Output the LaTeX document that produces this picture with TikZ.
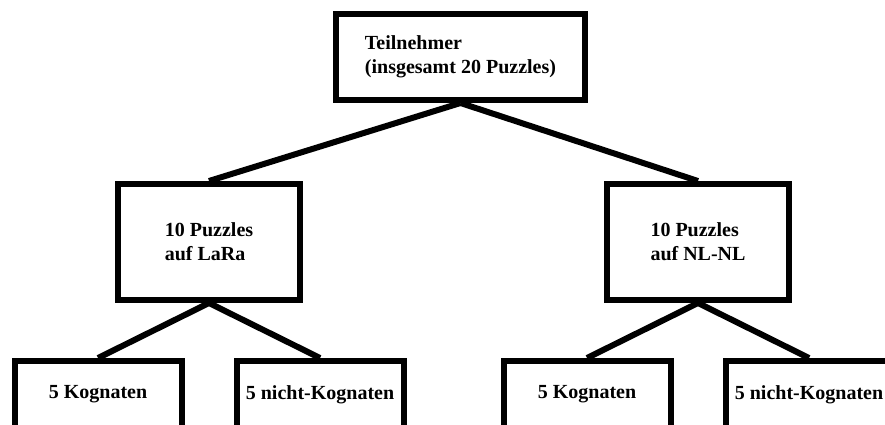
\documentclass[tikz,border=0pt]{standalone}
\usepackage{fontspec}
\setmainfont{Liberation Serif}
\tikzset{
  rootbox/.style={rectangle, draw, line width=6pt, minimum width=249pt, minimum height=86pt, inner sep=0pt, align=left, font=\fontsize{20}{24}\selectfont\bfseries},
  groupbox/.style={rectangle, draw, line width=6pt, minimum width=182pt, minimum height=116pt, inner sep=0pt, align=left, font=\fontsize{20}{24}\selectfont\bfseries},
  setbox/.style={rectangle, draw, line width=6pt, minimum width=167pt, minimum height=67pt, inner sep=0pt, align=left, font=\fontsize{20}{24}\selectfont\bfseries}
}

\begin{document}
\begin{tikzpicture}[x=1pt, y=1pt,
  level 1/.style={level distance=185pt, sibling distance=489pt},
  level 2/.style={level distance=152.5pt, sibling distance=222pt},
  edge from parent/.style={draw, line width=6pt},
  edge from parent path={(\tikzparentnode.south) -- (\tikzchildnode.north)}]

  \useasboundingbox (0,0) rectangle (885,-425);
  \clip (0,0) rectangle (885,-425);

  \node[rootbox] (root) at (460.5,-57) {Teilnehmer\\(insgesamt 20 Puzzles)}
    child {node[groupbox, xshift=-7pt] (lara) {10 Puzzles\\auf LaRa}
      child {node[setbox] (laraK) {5 Kognaten}}
      child {node[setbox] (laraN) {5 nicht-Kognaten}}
    }
    child {node[groupbox, xshift=-7pt] (nlnl) {10 Puzzles\\auf NL-NL}
      child {node[setbox] (nlnlK) {5 Kognaten}}
      child {node[setbox] (nlnlN) {5 nicht-Kognaten}}
    };
\end{tikzpicture}
\end{document}
